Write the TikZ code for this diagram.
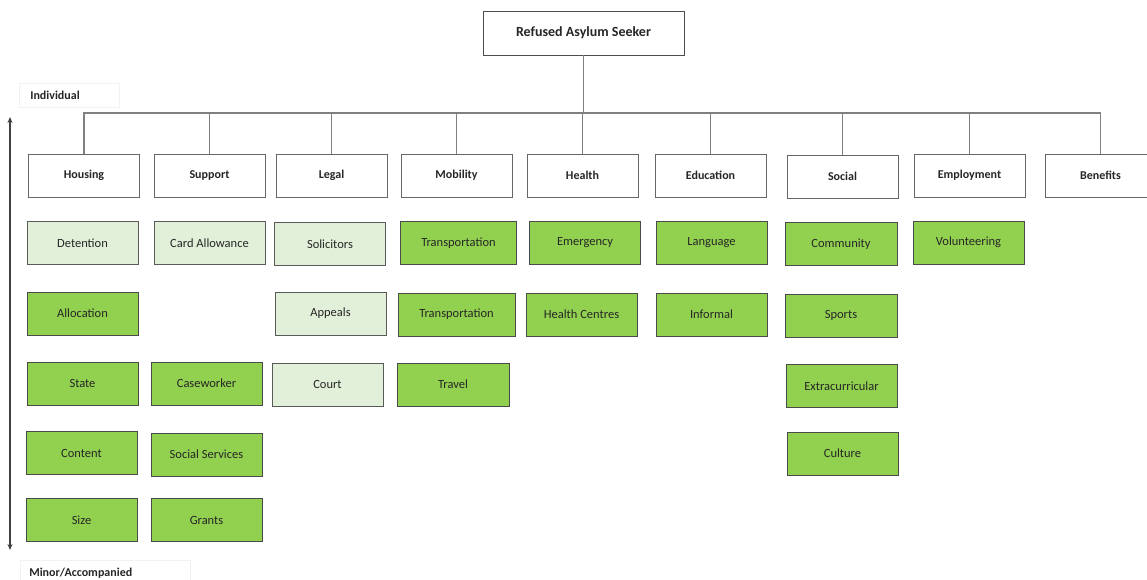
\documentclass[tikz,border=0pt]{standalone}
\usepackage{fontspec}
\setmainfont{Carlito}
\usetikzlibrary{arrows.meta}
\definecolor{dgreen}{HTML}{92D050}
\definecolor{lgreen}{HTML}{E2EFD9}
\definecolor{bordergray}{HTML}{4A4A4A}
\definecolor{linegray}{HTML}{808080}
\definecolor{txt}{HTML}{262626}
\tikzset{
  box/.style={draw=bordergray, line width=0.95pt, minimum width=111pt, minimum height=43pt, inner sep=0pt, text=txt, font=\fontsize{12.5}{14}\selectfont},
  headbox/.style={box, fill=white, draw=linegray!80!black, font=\bfseries\fontsize{12}{13}\selectfont},
  topbox/.style={box, fill=white, draw=linegray!60!black, minimum width=201pt, minimum height=44pt, font=\bfseries\fontsize{14}{16}\selectfont},
  dark/.style={box, fill=dgreen},
  light/.style={box, fill=lgreen, draw=linegray!70!black},
  conn/.style={draw=linegray, line width=1.2pt},
  sidelabel/.style={draw=black!5, line width=0.6pt, anchor=west, inner sep=0pt, text=txt, font=\bfseries\fontsize{12}{13}\selectfont, minimum height=24pt, text depth=0pt}
}
\begin{document}
\begin{tikzpicture}[x=1pt, y=-1pt]
\useasboundingbox[fill=white] (0,0) rectangle (1147,580);
% top node
\node[topbox] (top) at (583.5,33) {Refused Asylum Seeker};
\coordinate (bus) at (583,113);
% headers
\node[headbox] (hous) at (84,175.5) {Housing};
\node[headbox] (supp) at (209.5,175.5) {Support};
\node[headbox] (legal) at (331.5,175.5) {Legal};
\node[headbox] (mob) at (456.5,175.5) {Mobility};
\node[headbox] (health) at (582.5,175.5) {Health};
\node[headbox] (edu) at (710.5,175.5) {Education};
\node[headbox] (soc) at (842.5,176.5) {Social};
\node[headbox] (emp) at (969.5,175.5) {Employment};
\node[headbox] (ben) at (1100.5,175.5) {Benefits};
\foreach \h in {hous,supp,legal,mob,health,edu,soc,emp,ben}{
  \draw[conn] (top.south) -- (top.south |- bus) -| (\h.north);
}
% row 1
\node[light] (det) at (82.5,243) {Detention};
\node[light] (card) at (209.5,243) {Card Allowance};
\node[light] (sol) at (330,244) {Solicitors};
\node[dark, minimum width=116pt] (tr1) at (458.5,243) {Transportation};
\node[dark] (emer) at (585,243) {Emergency};
\node[dark] (lang) at (711.5,242.5) {Language};
\node[dark, minimum width=112pt] (comm) at (841,244) {Community};
\node[dark] (vol) at (968.5,242.5) {Volunteering};
% row 2
\node[dark] (alloc) at (82.5,313.5) {Allocation};
\node[light] (app) at (330.5,313.5) {Appeals};
\node[dark, minimum width=117pt] (tr2) at (456.5,314.5) {Transportation};
\node[dark] (hc) at (581.5,314.5) {Health Centres};
\node[dark] (inf) at (711.5,314.5) {Informal};
\node[dark, minimum width=112pt] (sport) at (841,315.5) {Sports};
% row 3
\node[dark] (state) at (82.5,383.5) {State};
\node[dark] (case) at (206.5,383.5) {Caseworker};
\node[light] (court) at (327.5,384.5) {Court};
\node[dark, minimum width=112pt] (travel) at (453,384.5) {Travel};
\node[dark] (extra) at (841.5,386) {Extracurricular};
% row 4
\node[dark] (cont) at (81.5,453) {Content};
\node[dark] (socs) at (206.5,454.5) {Social Services};
\node[dark] (cult) at (842.5,453.5) {Culture};
% row 5
\node[dark] (size) at (81.5,520) {Size};
\node[dark] (grants) at (206.5,520) {Grants};
% side labels and axis arrow
\node[sidelabel, minimum width=100pt, text width=78pt, inner xsep=11pt] (indiv) at (19,95) {Individual};
\node[sidelabel, minimum width=170pt, text width=152pt, inner xsep=9pt] (minor) at (20,572) {Minor/Accompanied};
\coordinate (axtop) at (10,117);
\coordinate (axbot) at (10,550);
\draw[draw=black!75, line width=1.1pt, {Stealth[length=6pt,width=5pt]}-{Stealth[length=6pt,width=5pt]}] (axtop) -- (axbot);
\end{tikzpicture}
\end{document}
